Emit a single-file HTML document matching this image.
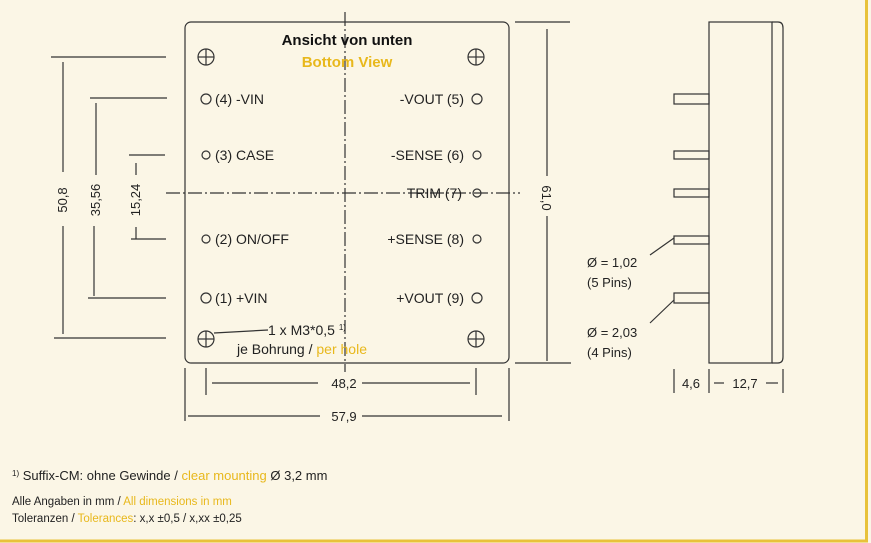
<!DOCTYPE html>
<html><head><meta charset="utf-8"><style>
html,body{margin:0;padding:0;background:#fbf6e6;}
svg{display:block;font-family:"Liberation Sans",sans-serif;}
.t{font-size:14px;fill:#222;}
.s{font-size:13px;fill:#222;}
.y{fill:#e8b81c;}
</style></head><body>
<svg width="871" height="543" viewBox="0 0 871 543" xmlns="http://www.w3.org/2000/svg">
<rect x="0" y="0" width="871" height="543" fill="#fbf6e6"/>
<line x1="866.5" y1="0" x2="866.5" y2="541" stroke="#e8c23a" stroke-width="3"/>
<line x1="0" y1="541" x2="868" y2="541" stroke="#e8c23a" stroke-width="3"/>
<g stroke="#333" stroke-width="1.2" fill="none">
<rect x="185" y="22" width="324" height="341" rx="6"/>
<line x1="345" y1="12" x2="345" y2="372" stroke-dasharray="14,3,2,3"/>
<line x1="166" y1="193" x2="520" y2="193" stroke-dasharray="14,3,2,3"/>
<!-- mounting holes -->
<g><circle cx="206" cy="57" r="8"/><line x1="198" y1="57" x2="214" y2="57"/><line x1="206" y1="49" x2="206" y2="65"/></g>
<g><circle cx="476" cy="57" r="8"/><line x1="468" y1="57" x2="484" y2="57"/><line x1="476" y1="49" x2="476" y2="65"/></g>
<g><circle cx="206" cy="339" r="8"/><line x1="198" y1="339" x2="214" y2="339"/><line x1="206" y1="331" x2="206" y2="347"/></g>
<g><circle cx="476" cy="339" r="8"/><line x1="468" y1="339" x2="484" y2="339"/><line x1="476" y1="331" x2="476" y2="347"/></g>
<line x1="214" y1="333" x2="268" y2="330"/>
<!-- pins -->
<circle cx="206" cy="99" r="5"/><circle cx="206" cy="155" r="4"/><circle cx="206" cy="239" r="4"/><circle cx="206" cy="298" r="5"/>
<circle cx="477" cy="99" r="5"/><circle cx="477" cy="155" r="4"/><circle cx="477" cy="193" r="4"/><circle cx="477" cy="239" r="4"/><circle cx="477" cy="298" r="5"/>
<!-- left dims -->
<line x1="51" y1="57" x2="166" y2="57"/><line x1="54" y1="338" x2="166" y2="338"/>
<line x1="63" y1="62" x2="63" y2="172"/><line x1="63" y1="226" x2="63" y2="334"/>
<line x1="90" y1="98" x2="167" y2="98"/><line x1="88" y1="298" x2="166" y2="298"/>
<line x1="96" y1="103" x2="96" y2="175"/><line x1="94" y1="226" x2="94" y2="296"/>
<line x1="129" y1="155" x2="165" y2="155"/><line x1="131" y1="239" x2="166" y2="239"/>
<line x1="136" y1="163" x2="136" y2="175"/><line x1="136" y1="227" x2="136" y2="239"/>
<!-- 61,0 -->
<line x1="515" y1="22" x2="570" y2="22"/><line x1="515" y1="363" x2="571" y2="363"/>
<line x1="547" y1="29" x2="547" y2="176"/><line x1="547" y1="216" x2="547" y2="361"/>
<!-- side view -->
<rect x="709" y="22" width="63" height="341"/>
<path d="M772 22 H778 Q783 22 783 28 V357 Q783 363 778 363 H772"/>
<rect x="674" y="94" width="35" height="10"/>
<rect x="674" y="151" width="35" height="8"/>
<rect x="674" y="189" width="35" height="8"/>
<rect x="674" y="236" width="35" height="8"/>
<rect x="674" y="293" width="35" height="10"/>
<line x1="674" y1="238" x2="650" y2="255"/><line x1="674" y1="300" x2="650" y2="323"/>
<line x1="674" y1="369" x2="674" y2="393"/><line x1="709" y1="369" x2="709" y2="393"/><line x1="783" y1="369" x2="783" y2="393"/>
<line x1="714" y1="383" x2="724" y2="383"/><line x1="766" y1="383" x2="778" y2="383"/>
<!-- bottom dims -->
<line x1="206" y1="368" x2="206" y2="395"/><line x1="476" y1="368" x2="476" y2="395"/>
<line x1="212" y1="383" x2="318" y2="383"/><line x1="362" y1="383" x2="470" y2="383"/>
<line x1="185" y1="368" x2="185" y2="421"/><line x1="509" y1="368" x2="509" y2="421"/>
<line x1="188" y1="416" x2="320" y2="416"/><line x1="362" y1="416" x2="502" y2="416"/>
</g>
<text x="347" y="45" text-anchor="middle" font-size="15" font-weight="bold" fill="#111">Ansicht von unten</text>
<text x="347" y="67" text-anchor="middle" font-size="15" font-weight="bold" class="y">Bottom View</text>
<g class="t">
<text x="215" y="104">(4) -VIN</text>
<text x="215" y="160">(3) CASE</text>
<text x="215" y="244">(2) ON/OFF</text>
<text x="215" y="303">(1) +VIN</text>
<text x="464" y="104" text-anchor="end">-VOUT (5)</text>
<text x="464" y="160" text-anchor="end">-SENSE (6)</text>
<text x="462" y="198" text-anchor="end">TRIM (7)</text>
<text x="464" y="244" text-anchor="end">+SENSE (8)</text>
<text x="464" y="303" text-anchor="end">+VOUT (9)</text>
<text x="268" y="335">1 x M3*0,5 <tspan font-size="8" dy="-5">1)</tspan></text>
<text x="237" y="354">je Bohrung / <tspan class="y">per hole</tspan></text>
</g>
<g class="s">
<text transform="translate(67,200) rotate(-90)" text-anchor="middle">50,8</text>
<text transform="translate(100,200) rotate(-90)" text-anchor="middle">35,56</text>
<text transform="translate(140,200) rotate(-90)" text-anchor="middle">15,24</text>
<text transform="translate(542,198) rotate(90)" text-anchor="middle">61,0</text>
<text x="344" y="388" text-anchor="middle">48,2</text>
<text x="344" y="421" text-anchor="middle">57,9</text>
<text x="691" y="388" text-anchor="middle">4,6</text>
<text x="745" y="388" text-anchor="middle">12,7</text>
<text x="587" y="267">Ø = 1,02</text>
<text x="587" y="287">(5 Pins)</text>
<text x="587" y="337">Ø = 2,03</text>
<text x="587" y="357">(4 Pins)</text>
<text x="12" y="480"><tspan font-size="8" dy="-4">1)</tspan><tspan dy="4"> Suffix-CM: ohne Gewinde / </tspan><tspan class="y">clear mounting</tspan> Ø 3,2 mm</text>
</g>
<g font-size="11.5" fill="#222">
<text x="12" y="505">Alle Angaben in mm / <tspan class="y">All dimensions in mm</tspan></text>
<text x="12" y="522">Toleranzen / <tspan class="y">Tolerances</tspan>: x,x ±0,5 / x,xx ±0,25</text>
</g>
</svg>
</body></html>
